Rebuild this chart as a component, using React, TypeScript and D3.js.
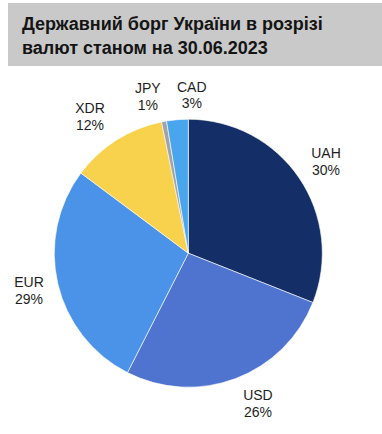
import React from "react";
import * as d3 from "d3";

const titleLines = ["Державний борг України в розрізі", "валют станом на 30.06.2023"];
const categories = ["UAH", "USD", "EUR", "XDR", "JPY", "CAD"];
const values = [31.0, 26.5, 27.7, 11.6, 0.6, 2.6];
const percentLabels = ["30%", "26%", "29%", "12%", "1%", "3%"];
const colors = ["#142e68", "#4f74cf", "#4a93e8", "#f8d24c", "#a0a3a8", "#4aa6ec"];

const W = 382;
const H = 434;

export default function App() {
  const cx = 188.3;
  const cy = 253.2;
  const r = 134;
  const data = categories.map((c, i) => ({ c, v: values[i], p: percentLabels[i], col: colors[i] }));
  const pie = d3.pie<any>().sort(null).value((d) => d.v);
  const arcs = pie(data);
  const arc = d3.arc<any>().innerRadius(0).outerRadius(r);
  const labelArc = d3.arc<any>().innerRadius(162).outerRadius(162);
  // nudges to mimic Excel "best fit" label placement
  const nudge: Record<string, [number, number]> = {
    UAH: [3.7, -1.2],
    USD: [12.4, -1.7],
    EUR: [-1.5, -0.2],
    XDR: [-11.5, -0.1],
    JPY: [-11.1, 2.4],
    CAD: [16.7, 2.9],
  };
  const font = "'Liberation Sans', Arial, sans-serif";
  return (
    <svg
      width={W}
      height={H}
      style={{ position: "absolute", left: 0, top: 0, background: "#fff" }}
      fontFamily={font}
    >
      <rect x={8} y={3} width={374} height={63} fill="#c9c9c9" />
      {titleLines.map((t, i) => (
        <text key={i} x={22} y={29.5 + i * 24} fontSize={18} fontWeight="bold" fill="#141414">
          {t}
        </text>
      ))}
      <g transform={`translate(${cx},${cy})`}>
        {arcs.map((a, i) => (
          <path key={i} d={arc(a) as string} fill={a.data.col} stroke="#ffffff" strokeWidth={0.6} />
        ))}
        {arcs.map((a, i) => {
          const [lx, ly] = labelArc.centroid(a);
          const [nx, ny] = nudge[a.data.c] || [0, 0];
          const x = lx + nx;
          const y = ly + ny;
          return (
            <text key={"l" + i} x={x} y={y} textAnchor="middle" fontSize={14} fill="#1e1e1e">
              <tspan x={x} dy={-3}>{a.data.c}</tspan>
              <tspan x={x} dy={16.7}>{a.data.p}</tspan>
            </text>
          );
        })}
      </g>
    </svg>
  );
}
